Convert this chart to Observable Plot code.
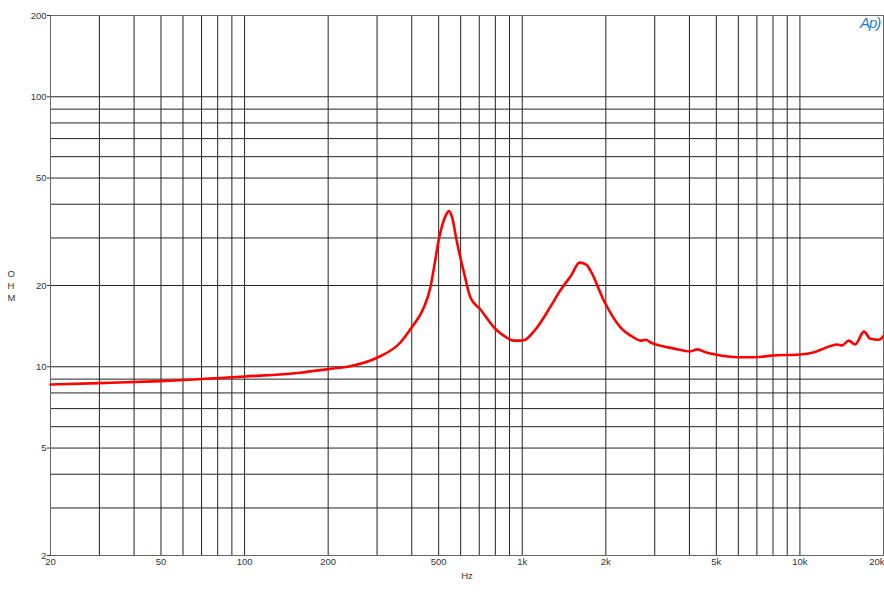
<!DOCTYPE html>
<html>
<head>
<meta charset="utf-8">
<script src="https://cdn.jsdelivr.net/npm/d3@7"></script>
<script src="https://cdn.jsdelivr.net/npm/@observablehq/plot@0.6"></script>
<style>
  html, body { margin: 0; padding: 0; background: #fff; }
  #chart { position: relative; width: 884px; height: 600px; }
  .ap { position: absolute; left: 860px; top: 14px; font: italic 15px "Liberation Sans", Arial, sans-serif; color: #1f7fc4; letter-spacing: -1px; }
</style>
</head>
<body>
<div id="chart"></div>
<script>
// Impedance curve (Hz, Ohm)
const freqs = [20, 30, 50, 100, 158, 200, 240, 300, 364, 400, 440, 467, 480, 490, 500, 510, 530, 545, 560, 580, 620, 650, 707, 801, 870, 931, 1000, 1131, 1250, 1372, 1500, 1608, 1700, 1761, 1966, 2257, 2500, 2665, 2787, 2900, 3031, 3500, 4032, 4263, 4600, 4961, 6025, 6915, 7900, 10000, 11180, 12480, 13600, 14200, 14970, 15810, 17000, 17950, 19230, 20000];
const ohms  = [8.6, 8.7, 8.85, 9.2, 9.5, 9.8, 10.05, 10.8, 12.3, 14.0, 16.4, 19.7, 23.0, 26.1, 29.5, 32.2, 36.3, 37.7, 35.5, 29.4, 21.8, 18.1, 16.3, 13.8, 12.9, 12.5, 12.5, 14.0, 16.4, 19.2, 21.8, 24.3, 23.9, 22.7, 17.6, 14.0, 12.9, 12.5, 12.6, 12.3, 12.1, 11.7, 11.4, 11.6, 11.3, 11.1, 10.85, 10.85, 11.0, 11.1, 11.3, 11.8, 12.1, 12.0, 12.5, 12.1, 13.5, 12.7, 12.6, 13.0];

const xGrid = [20,30,40,50,60,70,80,90,100,200,300,400,500,600,700,800,900,1000,2000,3000,4000,5000,6000,7000,8000,9000,10000,20000];
const yGrid = [2,3,4,5,6,7,8,9,10,20,30,40,50,60,70,80,90,100,200];
const xTicks = [20,50,100,200,500,1000,2000,5000,10000,20000];
const xTickLabels = ["20","50","100","200","500","1k","2k","5k","10k","20k"];
const yTicks = [2,5,10,20,50,100,200];
const yTickLabels = ["2","5","10","20","50","100","200"];

const data = freqs.map((f, i) => ({f, z: ohms[i]}));
const xLab = xTicks.map((t, i) => ({t, label: xTickLabels[i], anchor: i === xTicks.length - 1 ? "end" : "middle"}));
const font = '"Liberation Sans", Arial, sans-serif';

const chart = Plot.plot({
  width: 884,
  height: 600,
  marginLeft: 50,
  marginRight: 1,
  marginTop: 15,
  marginBottom: 45,
  style: {fontFamily: font, fontSize: "9.5px", color: "#333", background: "#fff"},
  x: {type: "log", domain: [20, 20000], axis: null},
  y: {type: "log", domain: [2, 200]},
  marks: [
    Plot.ruleX(xGrid, {stroke: "#222", strokeWidth: 1}),
    Plot.ruleY(yGrid, {stroke: "#222", strokeWidth: 1}),
    Plot.frame({stroke: "#666"}),
    Plot.line(data, {x: "f", y: "z", stroke: "#ff0000", strokeWidth: 2.6, curve: "monotone-x"}),
    Plot.text(xLab.filter(d => d.anchor === "middle"), {x: "t", text: "label", frameAnchor: "bottom", dy: 9, textAnchor: "middle", fontSize: 9.5, fill: "#333"}),
    Plot.text(xLab.filter(d => d.anchor === "end"), {x: "t", text: "label", frameAnchor: "bottom", dy: 9, dx: 1, textAnchor: "end", fontSize: 9.5, fill: "#333"}),
    Plot.axisY({ticks: yTicks, tickFormat: d => yTickLabels[yTicks.indexOf(d)], tickSize: 3, tickPadding: 1, label: null, fill: "#333"}),
    Plot.text(["Hz"], {frameAnchor: "bottom", dy: 23, fontSize: 9.5, fill: "#333"}),
    Plot.text(["O\nH\nM"], {frameAnchor: "left", dx: -43, lineHeight: 1.25, fontSize: 9.5, fill: "#333"})
  ]
});
document.getElementById("chart").appendChild(chart);
const ap = document.createElement("div");
ap.className = "ap";
ap.textContent = "Ap)";
document.getElementById("chart").appendChild(ap);
</script>
</body>
</html>
